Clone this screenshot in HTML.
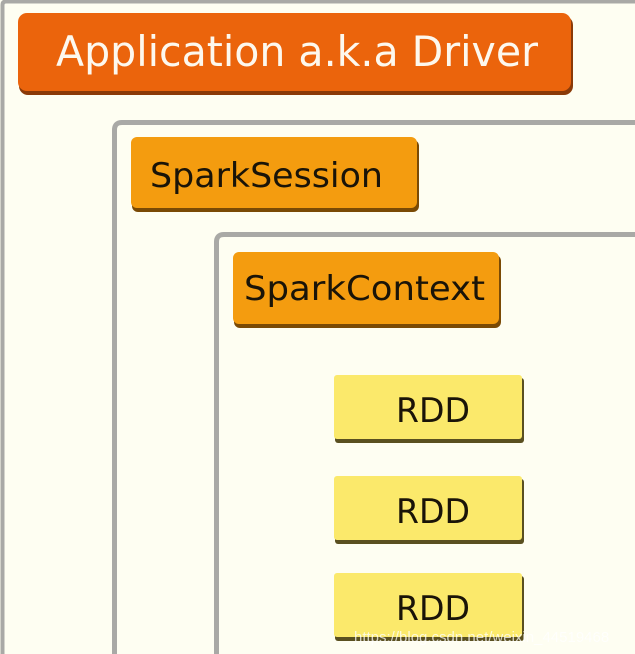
<!DOCTYPE html>
<html><head><meta charset="utf-8"><style>
html,body{margin:0;padding:0;background:#fefef2;width:635px;height:654px;overflow:hidden;}
svg{display:block}
</style></head><body>
<svg width="635" height="654" viewBox="0 0 635 654" xmlns="http://www.w3.org/2000/svg" overflow="hidden">
<rect width="635" height="654" fill="#fefef2"/>
<path d="M2.5 660 V5 Q2.5 1.5 6 1.5 H640" fill="none" stroke="#a9a9a6" stroke-width="4"/>
<path d="M114.5 660 V130 Q114.5 122.5 122 122.5 H640" fill="none" stroke="#a9a9a6" stroke-width="5"/>
<path d="M216.5 660 V242 Q216.5 234.5 224 234.5 H640" fill="none" stroke="#a9a9a6" stroke-width="5"/>

<rect x="19" y="16" width="554" height="79" rx="9" fill="#8a3a08"/>
<rect x="18" y="13" width="553" height="78" rx="9" fill="#eb640c"/>
<text x="56" y="66" font-family="DejaVu Sans, Liberation Sans, sans-serif" font-size="42" fill="#fdf8ee" textLength="482" lengthAdjust="spacingAndGlyphs">Application a.k.a Driver</text>

<rect x="132" y="140" width="287" height="72" rx="6" fill="#7a4a05"/>
<rect x="131" y="137" width="286" height="71" rx="6" fill="#f49c0f"/>
<text x="150" y="187" font-family="DejaVu Sans, Liberation Sans, sans-serif" font-size="34" fill="#1a1408" textLength="233" lengthAdjust="spacingAndGlyphs">SparkSession</text>

<rect x="234" y="255" width="267" height="73" rx="6" fill="#7a4a05"/>
<rect x="233" y="252" width="266" height="72" rx="6" fill="#f49c0f"/>
<text x="244" y="300" font-family="DejaVu Sans, Liberation Sans, sans-serif" font-size="34" fill="#1a1408" textLength="241" lengthAdjust="spacingAndGlyphs">SparkContext</text>

<rect x="335" y="378" width="189" height="65" rx="3" fill="#5a5020"/>
<rect x="334" y="375" width="188" height="64" rx="3" fill="#fbe96b"/>
<text x="396" y="422" font-family="DejaVu Sans, Liberation Sans, sans-serif" font-size="34" fill="#1a1408" textLength="74" lengthAdjust="spacingAndGlyphs">RDD</text>

<rect x="335" y="479" width="189" height="65" rx="3" fill="#5a5020"/>
<rect x="334" y="476" width="188" height="64" rx="3" fill="#fbe96b"/>
<text x="396" y="523" font-family="DejaVu Sans, Liberation Sans, sans-serif" font-size="34" fill="#1a1408" textLength="74" lengthAdjust="spacingAndGlyphs">RDD</text>

<rect x="335" y="576" width="189" height="65" rx="3" fill="#5a5020"/>
<rect x="334" y="573" width="188" height="64" rx="3" fill="#fbe96b"/>
<text x="396" y="620" font-family="DejaVu Sans, Liberation Sans, sans-serif" font-size="34" fill="#1a1408" textLength="74" lengthAdjust="spacingAndGlyphs">RDD</text>

<text x="354" y="642" font-family="Liberation Sans, sans-serif" font-size="15" fill="#ffffff" fill-opacity="0.75">https://blog.csdn.net/weixin_44519468</text>
</svg>
</body></html>
